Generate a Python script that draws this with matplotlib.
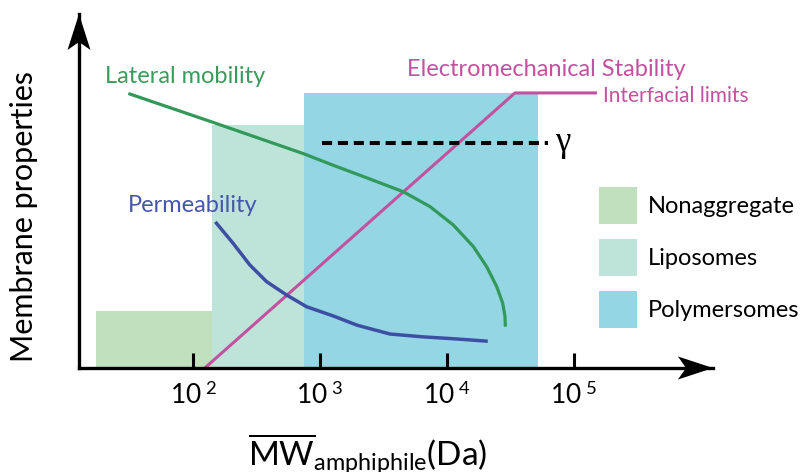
import numpy as np
import matplotlib
matplotlib.use("Agg")
import matplotlib.pyplot as plt
from matplotlib.patches import Polygon
from matplotlib.ticker import NullLocator, FixedLocator

plt.rcParams['font.family'] = ['Lato', 'DejaVu Sans']
plt.rcParams['mathtext.fontset'] = 'custom'
plt.rcParams['mathtext.rm'] = 'Lato'
plt.rcParams['mathtext.it'] = 'Lato:italic'
plt.rcParams['mathtext.bf'] = 'Lato:bold'

# regions (MW in Da, height in arbitrary units 0..10)
region_names = ['Nonaggregate', 'Liposomes', 'Polymersomes']
region_start = [17, 140, 745]
region_end = [140, 745, 52500]
region_height = [1.61, 6.86, 7.77]

# lateral mobility curve
mobility_mw = [31.5, 140, 745, 1262, 2344, 2966, 4530, 7360, 11250, 16200,
               20650, 24770, 27620, 28800, 28950]
mobility_val = [7.74, 6.95, 6.05, 5.73, 5.37, 5.23, 4.98, 4.56, 4.04, 3.43,
                2.86, 2.30, 1.83, 1.45, 1.21]

# permeability curve
perm_mw = [152, 206, 279, 378, 545, 783, 1270, 1954, 3560, 6480, 12000, 20400]
perm_val = [4.09, 3.52, 2.91, 2.44, 2.06, 1.73, 1.47, 1.21, 0.96, 0.88, 0.82, 0.76]

# electromechanical stability with interfacial limit
stability_mw = [123, 34500, 153000]
stability_val = [0, 7.77, 7.77]

# surface tension level
gamma_mw = [1030, 63000]
gamma_val = [6.36, 6.36]

tick_mw = [1e2, 1e3, 1e4, 1e5]
tick_labels = [r'$10^{\,\,2}$', r'$10^{\,\,3}$', r'$10^{\,\,4}$', r'$10^{\,\,5}$']

region_colors = ['#c1e0bd', '#bee4da', '#94d6e3']
green = '#31995a'
blue = '#3d4fa3'
magenta = '#c2529f'

W, H = 803, 472
fig = plt.figure(figsize=(W / 100, H / 100), dpi=100)
ax_l, ax_r, ax_b, ax_t = 79, 713, 368, 14
ax = fig.add_axes([ax_l / W, 1 - ax_b / H, (ax_r - ax_l) / W, (ax_b - ax_t) / H])
ax.set_xscale('log')
ax.set_xlim(12.5, 1.262e6)
ax.set_ylim(0, 10)

for x0, x1, h, c, name in zip(region_start, region_end, region_height, region_colors, region_names):
    ax.fill_between([x0, x1], 0, h, color=c, lw=0, label=name, zorder=1)

ax.plot(stability_mw, stability_val, color=magenta, lw=2.2, zorder=3, solid_capstyle='butt')
ax.plot(gamma_mw, gamma_val, color='black', lw=2.9, dashes=(2.5, 1.45), zorder=3)
ax.plot(mobility_mw, mobility_val, color=green, lw=2.3, zorder=4)
ax.plot(perm_mw, perm_val, color=blue, lw=2.5, zorder=4)

ax.text(20, 8.05, 'Lateral mobility', color='#3a9c5c', fontsize=17, ha='left', va='baseline')
ax.text(30.4, 4.41, 'Permeability', color='#4656a8', fontsize=17, ha='left', va='baseline')
ax.text(4850, 8.25, 'Electromechanical Stability', color=magenta, fontsize=17, ha='left', va='baseline')
ax.text(171000, 7.51, 'Interfacial limits', color=magenta, fontsize=15, ha='left', va='baseline')
ax.text(71400, 6.36, '\u03b3', color='black', fontsize=25, family='Liberation Serif',
        ha='left', va='center')

# axes styling
for s in ['top', 'right']:
    ax.spines[s].set_visible(False)
for s in ['left', 'bottom']:
    ax.spines[s].set_linewidth(2.4)
    ax.spines[s].set_zorder(5)
ax.set_yticks([])
ax.xaxis.set_major_locator(FixedLocator(tick_mw))
ax.xaxis.set_minor_locator(NullLocator())
ax.set_xticklabels(tick_labels, fontsize=19)
ax.tick_params(axis='x', direction='in', length=10.8, width=2.2, pad=10)

# arrow heads
def head(tip, back, half, notch, horizontal):
    tx, ty = tip
    if horizontal:
        pts = [(tx, ty), (tx - back, ty - half), (tx - back + notch, ty), (tx - back, ty + half)]
    else:
        pts = [(tx, ty), (tx - half, ty + back), (tx, ty + back - notch), (tx + half, ty + back)]
    pts = [(x / W, 1 - y / H) for x, y in pts]
    fig.add_artist(Polygon(pts, closed=True, color='black', lw=0, transform=fig.transFigure, zorder=10))

head((ax_r, ax_b), 35, 11.5, 8, True)
head((ax_l, ax_t), 36, 11.5, 8, False)

ax.legend(loc='upper left', bbox_to_anchor=(599 / W, 1 - 187 / H), bbox_transform=fig.transFigure,
          frameon=False, borderpad=0, borderaxespad=0, fontsize=17,
          handlelength=1.6, handleheight=2.03, labelspacing=0.64, handletextpad=0.45)

fig.text(24 / W, 1 - 216 / H, 'Membrane properties', rotation=90, fontsize=22,
         ha='center', va='center')
fig.text(368 / W, 1 - 466 / H, r'$\overline{\mathrm{MW}}_{\mathrm{amphiphile}}$(Da)',
         fontsize=24, ha='center', va='baseline')

fig.savefig('out.png', dpi=100)
